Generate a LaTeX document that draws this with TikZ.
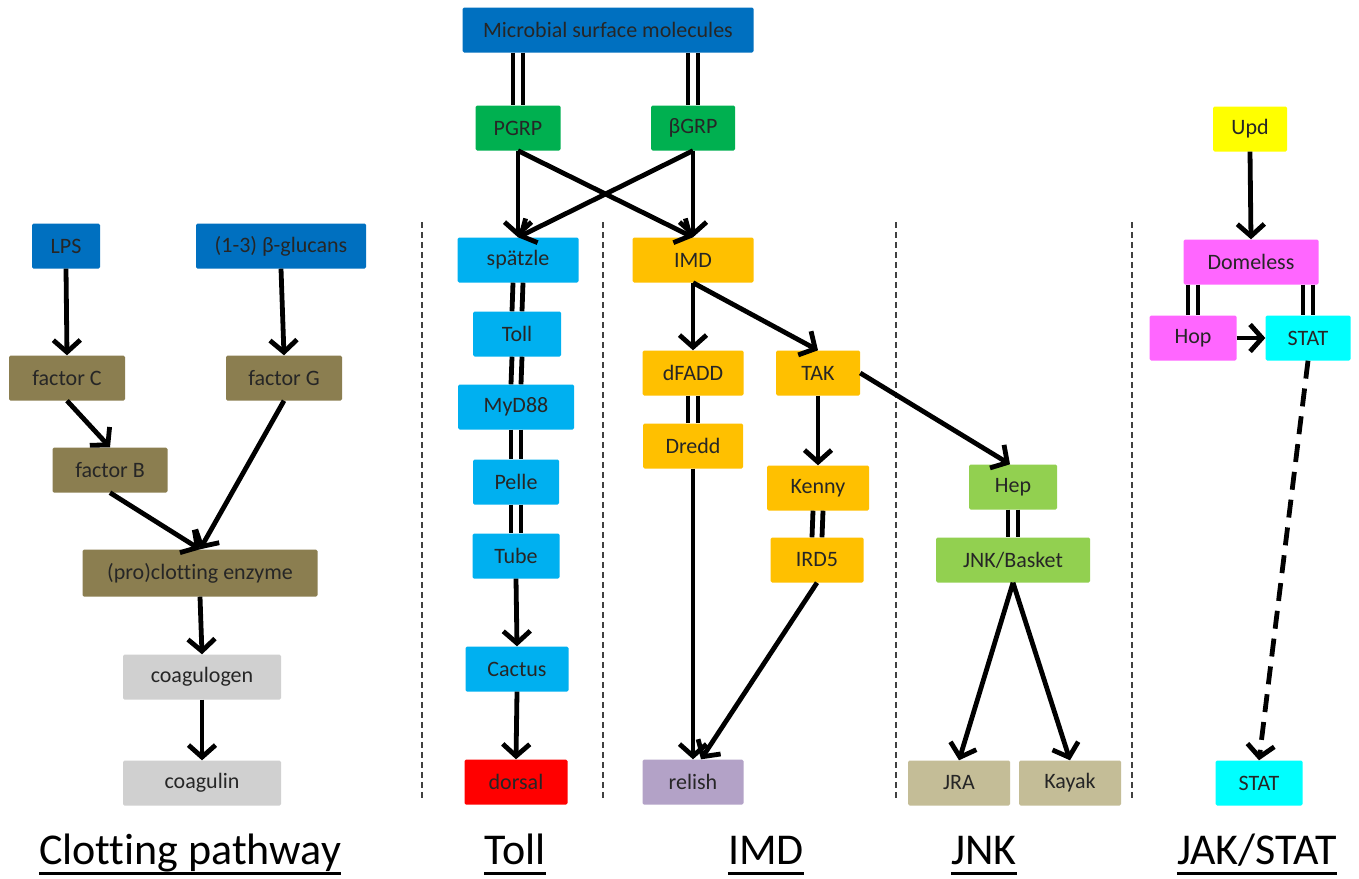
\documentclass[tikz,border=0pt]{standalone}
\usepackage{fontspec}
\setmainfont{Carlito}[Ligatures=NoCommon]
\usetikzlibrary{arrows.meta,calc}
\definecolor{cdblue}{HTML}{0070C0}
\definecolor{colive}{HTML}{8B7E50}
\definecolor{cgray}{HTML}{D0D0D0}
\definecolor{cgreen}{HTML}{00B050}
\definecolor{clblue}{HTML}{00B0F0}
\definecolor{camber}{HTML}{FFC000}
\definecolor{cred}{HTML}{FF0000}
\definecolor{clav}{HTML}{B3A2C7}
\definecolor{clgreen}{HTML}{92D050}
\definecolor{ctan}{HTML}{C4BD97}
\definecolor{cyell}{HTML}{FFFF00}
\definecolor{cmag}{HTML}{FF66FF}
\definecolor{ccyan}{HTML}{00FFFF}
\tikzset{
  box/.style={rectangle, rounded corners=1.5pt, minimum height=45pt, inner sep=0pt,
    font=\fontsize{22}{26}\selectfont, text=black!85},
  arr/.style={line width=4.8pt, -{Straight Barb[length=12pt,width=27pt]}},
  dlinestyle/.style={line width=4.8pt},
  sep/.style={line width=1.6pt, black!75, dash pattern=on 6pt off 4pt},
  ttl/.style={font=\fontsize{44}{50}\selectfont, inner sep=0pt, anchor=base},
  ul/.style={line width=3pt},
}
\newcommand\dlink[2]{%
  \draw[dlinestyle] ($(#1)+(-5,0)$) -- ($(#2)+(-5,0)$);
  \draw[dlinestyle] ($(#1)+(5,0)$) -- ($(#2)+(5,0)$);}
\begin{document}
\begin{tikzpicture}[x=1pt,y=-1pt]
\useasboundingbox[fill=white] (0,0) rectangle (1359,878);
% separators
\draw[sep] (422,222) -- (422,800);
\draw[sep] (603,222) -- (603,800);
\draw[sep] (896,222) -- (896,800);
\draw[sep] (1132,222) -- (1132,800);
% Clotting
\node[box, fill=cdblue, minimum width=68pt] (lps) at (66,246) {LPS};
\node[box, fill=cdblue, minimum width=170pt] (glu) at (281,246) {(1-3) β-glucans};
\node[box, fill=colive, minimum width=116pt] (fc) at (67,378) {factor C};
\node[box, fill=colive, minimum width=116pt] (fg) at (284,378) {factor G};
\node[box, fill=colive, minimum width=115pt] (fb) at (110,470) {factor B};
\node[box, fill=colive, minimum width=235pt, minimum height=47pt] (enz) at (200,573) {(pro)clotting enzyme};
\node[box, fill=cgray, minimum width=158pt] (cgn) at (202,677) {coagulogen};
\node[box, fill=cgray, minimum width=158pt] (cgl) at (202,783) {coagulin};
\draw[arr] (lps.south) -- (fc.north);
\draw[arr] (glu.south) -- (fg.north);
\draw[arr] (fc.south) -- (fb.north);
\draw[arr] (fb.south) -- (enz.north);
\draw[arr] (fg.south) -- (enz.north);
\draw[arr] (enz.south) -- (cgn.north);
\draw[arr] (cgn.south) -- (cgl.north);
% Toll / IMD top
\node[box, fill=cdblue, minimum width=291pt] (msm) at (608,30) {Microbial surface molecules};
\node[box, fill=cgreen, minimum width=85pt] (pgrp) at (518,128) {PGRP};
\node[box, fill=cgreen, minimum width=84pt] (bgrp) at (693,128) {βGRP};
\dlink{pgrp.north |- msm.south}{pgrp.north}
\dlink{bgrp.north |- msm.south}{bgrp.north}
% Toll
\node[box, fill=clblue, minimum width=121pt] (spz) at (518,260) {spätzle};
\node[box, fill=clblue, minimum width=88pt] (toll) at (517,334) {Toll};
\node[box, fill=clblue, minimum width=116pt] (myd) at (516,407) {MyD88};
\node[box, fill=clblue, minimum width=86pt] (pel) at (516,482) {Pelle};
\node[box, fill=clblue, minimum width=87pt] (tube) at (516,556) {Tube};
\node[box, fill=clblue, minimum width=103pt] (cac) at (517,669) {Cactus};
\node[box, fill=cred, minimum width=103pt] (dor) at (516,782) {dorsal};
% IMD
\node[box, fill=camber, minimum width=121pt] (imd) at (693,260) {IMD};
\node[box, fill=camber, minimum width=101pt] (fadd) at (693,373) {dFADD};
\node[box, fill=camber, minimum width=84pt] (tak) at (818,373) {TAK};
\node[box, fill=camber, minimum width=100pt] (dredd) at (693,446) {Dredd};
\node[box, fill=camber, minimum width=102pt] (kenny) at (818,488) {Kenny};
\node[box, fill=camber, minimum width=93pt] (ird) at (817,560) {IRD5};
\node[box, fill=clav, minimum width=101pt] (rel) at (693,782) {relish};
\draw[arr] (pgrp.south) -- (spz.north);
\draw[arr] (pgrp.south) -- (imd.north);
\draw[arr] (bgrp.south) -- (spz.north);
\draw[arr] (bgrp.south) -- (imd.north);
\dlink{spz.south}{toll.north}
\dlink{toll.south}{myd.north}
\dlink{myd.south}{pel.north}
\dlink{pel.south}{tube.north}
\draw[arr] (tube.south) -- (cac.north);
\draw[arr] (cac.south) -- (dor.north);
\draw[arr] (imd.south) -- (fadd.north);
\draw[arr] (imd.south) -- (tak.north);
\dlink{fadd.south}{dredd.north}
\draw[arr] (tak.south) -- (kenny.north);
\dlink{kenny.south}{ird.north}
\draw[arr] (dredd.south) -- (rel.north);
\draw[arr] (ird.south) -- ([xshift=8pt]rel.north);
% JNK
\node[box, fill=clgreen, minimum width=88pt] (hep) at (1013,487) {Hep};
\node[box, fill=clgreen, minimum width=154pt] (jnk) at (1013,560) {JNK/Basket};
\node[box, fill=ctan, minimum width=102pt] (jra) at (959,783) {JRA};
\node[box, fill=ctan, minimum width=102pt] (kay) at (1070,783) {Kayak};
\draw[arr] (tak.east) -- ([xshift=-3pt]hep.north);
\dlink{hep.south}{jnk.north}
\draw[arr] (jnk.south) -- (jra.north);
\draw[arr] (jnk.south) -- (kay.north);
% JAK/STAT
\node[box, fill=cyell, minimum width=74pt] (upd) at (1250,129) {Upd};
\node[box, fill=cmag, minimum width=135pt] (dome) at (1251,262) {Domeless};
\node[box, fill=cmag, minimum width=87pt] (hop) at (1193,338) {Hop};
\node[box, fill=ccyan, minimum width=85pt] (stat) at (1308,338) {STAT};
\node[box, fill=ccyan, minimum width=87pt] (stat2) at (1259,783) {STAT};
\draw[arr] (upd.south) -- (dome.north);
\dlink{hop.north |- dome.south}{hop.north}
\dlink{stat.north |- dome.south}{stat.north}
\draw[arr] (hop.east) -- (stat.west);
\draw[arr, dash pattern=on 18pt off 10pt] (stat.south) -- (stat2.north);
% titles
\node[ttl] (t1) at (190,864) {Clotting pathway};
\node[ttl] (t2) at (515,864) {Toll};
\node[ttl] (t3) at (766,864) {IMD};
\node[ttl] (t4) at (984,864) {JNK};
\node[ttl] (t5) at (1257,864) {JAK/STAT};
\foreach \t in {t1,t2,t3,t4,t5}
  \draw[ul] ([yshift=-9pt]\t.base west) -- ([yshift=-9pt]\t.base east);
\end{tikzpicture}
\end{document}
